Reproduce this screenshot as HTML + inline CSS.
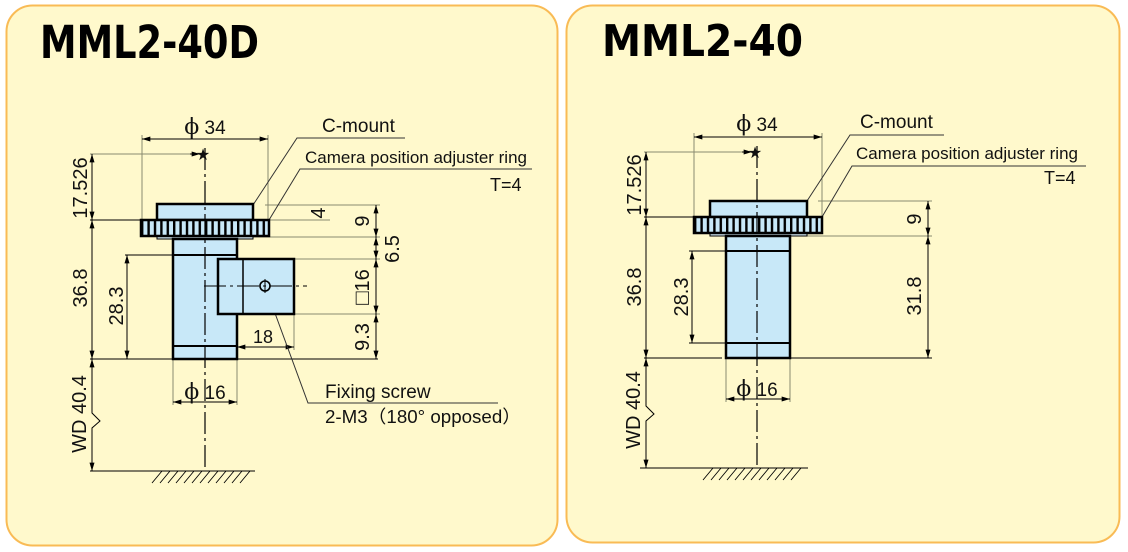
<!DOCTYPE html>
<html><head><meta charset="utf-8"><style>
html,body{margin:0;padding:0;background:#fff;}
svg{display:block;}
text{font-family:"Liberation Sans",sans-serif;fill:#111;}
.t{font-family:"DejaVu Sans","Liberation Sans",sans-serif;font-weight:bold;fill:#000;}
</style></head><body>
<svg width="1128" height="552" viewBox="0 0 1128 552" xmlns="http://www.w3.org/2000/svg">
<defs>
<marker id="a" viewBox="0 0 10 6" refX="10" refY="3" markerWidth="9" markerHeight="5" orient="auto-start-reverse" markerUnits="userSpaceOnUse"><path d="M0,0L10,3L0,6z" fill="#000"/></marker>
<pattern id="kL" x="141" y="0" width="6.4" height="20" patternUnits="userSpaceOnUse"><rect width="6.4" height="20" fill="#c8e8f8"/><rect x="0" width="2.4" height="20" fill="#000"/></pattern>
<pattern id="kR" x="694" y="0" width="6.4" height="20" patternUnits="userSpaceOnUse"><rect width="6.4" height="20" fill="#c8e8f8"/><rect x="0" width="2.4" height="20" fill="#000"/></pattern>
</defs>
<rect x="0" y="0" width="1128" height="552" fill="#fff"/>
<rect x="6.5" y="5.5" width="551" height="540" rx="26" fill="#fff9cc" stroke="#f9bb55" stroke-width="2"/>
<rect x="566.5" y="5.5" width="553" height="537" rx="26" fill="#fff9cc" stroke="#f9bb55" stroke-width="2"/>
<text class="t" x="40" y="58" font-size="45" textLength="219" lengthAdjust="spacingAndGlyphs">MML2-40D</text>
<text class="t" x="602" y="56" font-size="44" textLength="201" lengthAdjust="spacingAndGlyphs">MML2-40</text>

<!-- LEFT -->
<g stroke="#000" stroke-width="1" fill="none">
<g stroke="#8a8a70">
<line x1="142" y1="135" x2="142" y2="220"/><line x1="268" y1="135" x2="268" y2="220"/>
<line x1="90" y1="154" x2="200" y2="154"/>
<line x1="265" y1="205" x2="380" y2="205"/>
<line x1="253" y1="237" x2="380" y2="237"/>
<line x1="294" y1="259" x2="380" y2="259"/>
<line x1="294" y1="314" x2="380" y2="314"/>
<line x1="294" y1="314" x2="294" y2="350"/>
<line x1="173" y1="359" x2="173" y2="405"/><line x1="237" y1="359" x2="237" y2="405"/>
<line x1="269" y1="220" x2="330" y2="220"/>
</g>
<line x1="90" y1="220" x2="141" y2="220"/>
<line x1="90" y1="359" x2="378" y2="359"/>
<line x1="125" y1="255" x2="173" y2="255"/>
<line x1="142" y1="139" x2="268" y2="139" marker-start="url(#a)" marker-end="url(#a)"/>
<line x1="92" y1="154" x2="92" y2="220" marker-start="url(#a)" marker-end="url(#a)"/>
<line x1="92" y1="220" x2="92" y2="359" marker-start="url(#a)" marker-end="url(#a)"/>
<line x1="127" y1="255" x2="127" y2="359" marker-start="url(#a)" marker-end="url(#a)"/>
<line x1="92" y1="359" x2="92" y2="471" marker-start="url(#a)" marker-end="url(#a)"/>
<line x1="376" y1="205" x2="376" y2="237" marker-start="url(#a)" marker-end="url(#a)"/>
<line x1="376" y1="237" x2="376" y2="259" marker-start="url(#a)" marker-end="url(#a)"/>
<line x1="376" y1="259" x2="376" y2="314" marker-start="url(#a)" marker-end="url(#a)"/>
<line x1="376" y1="314" x2="376" y2="359" marker-start="url(#a)" marker-end="url(#a)"/>
<line x1="237" y1="347" x2="294" y2="347" marker-start="url(#a)" marker-end="url(#a)"/>
<line x1="173" y1="402" x2="237" y2="402" marker-start="url(#a)" marker-end="url(#a)"/>
<line x1="190" y1="154" x2="200" y2="154" marker-end="url(#a)"/>
<line x1="90" y1="471" x2="255" y2="471"/>
<path stroke-width="0.9" d="M152,483l10,-12M160,483l10,-12M168,483l10,-12M176,483l10,-12M184,483l10,-12M192,483l10,-12M200,483l10,-12M208,483l10,-12M216,483l10,-12M224,483l10,-12M232,483l10,-12M240,483l10,-12"/>
<polyline points="253,205 297,138 405,138" stroke="#333"/>
<polyline points="269,220 300,169 532,169" stroke="#333"/>
<polyline points="265,286 308,403 498,403" stroke="#333"/>
</g>
<rect x="88" y="410" width="10" height="22" fill="#fff9cc"/>
<polyline points="92,408 92,413 100,421 92,428 92,434" fill="none" stroke="#000" stroke-width="1"/>
<g stroke="#000" stroke-width="2.5">
<rect x="157" y="204" width="96" height="16" fill="#c8e8f8"/>
<rect x="157" y="236" width="96" height="3" fill="#d8eef8" stroke-width="1"/>
<rect x="173" y="239" width="64" height="120" fill="#c8e8f8"/>
<line x1="173" y1="255" x2="237" y2="255" stroke-width="2"/>
<line x1="173" y1="346" x2="237" y2="346" stroke-width="2"/>
<rect x="218" y="259" width="76" height="55" fill="#c8e8f8"/>
<line x1="243" y1="259" x2="243" y2="314" stroke-width="1.5"/>
<rect x="141" y="220" width="128" height="16" fill="url(#kL)"/>
</g>
<line x1="204" y1="286" x2="307" y2="286" stroke="#000" stroke-width="1" stroke-dasharray="22,4,3,4"/>
<circle cx="265" cy="286" r="5" fill="none" stroke="#000" stroke-width="1.6"/>
<line x1="265" y1="279" x2="265" y2="293" stroke="#000" stroke-width="1"/>
<line x1="205" y1="148" x2="205" y2="471" stroke="#000" stroke-width="1.2" stroke-dasharray="22,4,3,4"/>
<text x="203" y="160" font-size="16" text-anchor="middle">★</text>
<text x="205" y="134" font-size="19" text-anchor="middle"><tspan font-size="22" font-family="DejaVu Serif, serif">ϕ</tspan> 34</text>
<text x="322" y="132" font-size="19">C-mount</text>
<text x="305" y="163" font-size="17" textLength="222" lengthAdjust="spacingAndGlyphs">Camera position adjuster ring</text>
<text x="490" y="191" font-size="18">T=4</text>
<text x="263" y="343" font-size="18" text-anchor="middle">18</text>
<text x="205" y="399" font-size="19" text-anchor="middle"><tspan font-size="22" font-family="DejaVu Serif, serif">ϕ</tspan> 16</text>
<text x="325" y="398" font-size="19">Fixing screw</text>
<text x="325" y="423" font-size="18" textLength="196" lengthAdjust="spacingAndGlyphs">2-M3（180° opposed）</text>
<g font-size="20" text-anchor="middle">
<text transform="translate(87,188) rotate(-90)">17.526</text>
<text transform="translate(87,288) rotate(-90)">36.8</text>
<text transform="translate(123,306) rotate(-90)">28.3</text>
<text transform="translate(86,414) rotate(-90)">WD 40.4</text>
<text transform="translate(369,221) rotate(-90)">9</text>
<text transform="translate(399,249) rotate(-90)">6.5</text>
<text transform="translate(369,287) rotate(-90)"><tspan font-size="22">□</tspan>16</text>
<text transform="translate(369,337) rotate(-90)">9.3</text>
<text transform="translate(325,213) rotate(-90)">4</text>
</g>

<!-- RIGHT -->
<g stroke="#000" stroke-width="1" fill="none">
<g stroke="#8a8a70">
<line x1="694" y1="133" x2="694" y2="217"/><line x1="822" y1="133" x2="822" y2="217"/>
<line x1="644" y1="152" x2="752" y2="152"/>
<line x1="818" y1="201" x2="932" y2="201"/>
<line x1="807" y1="236" x2="932" y2="236"/>
<line x1="726" y1="358" x2="726" y2="402"/><line x1="790" y1="358" x2="790" y2="402"/>
</g>
<line x1="644" y1="217" x2="694" y2="217"/>
<line x1="644" y1="358" x2="722" y2="358"/>
<line x1="790" y1="358" x2="932" y2="358"/>
<line x1="689" y1="251" x2="726" y2="251"/>
<line x1="689" y1="343" x2="726" y2="343"/>
<line x1="694" y1="137" x2="822" y2="137" marker-start="url(#a)" marker-end="url(#a)"/>
<line x1="646" y1="152" x2="646" y2="217" marker-start="url(#a)" marker-end="url(#a)"/>
<line x1="646" y1="217" x2="646" y2="358" marker-start="url(#a)" marker-end="url(#a)"/>
<line x1="692" y1="251" x2="692" y2="343" marker-start="url(#a)" marker-end="url(#a)"/>
<line x1="646" y1="358" x2="646" y2="468" marker-start="url(#a)" marker-end="url(#a)"/>
<line x1="928" y1="201" x2="928" y2="236" marker-start="url(#a)" marker-end="url(#a)"/>
<line x1="928" y1="236" x2="928" y2="358" marker-start="url(#a)" marker-end="url(#a)"/>
<line x1="726" y1="399" x2="790" y2="399" marker-start="url(#a)" marker-end="url(#a)"/>
<line x1="742" y1="152" x2="752" y2="152" marker-end="url(#a)"/>
<line x1="640" y1="468" x2="808" y2="468"/>
<path stroke-width="0.9" d="M703,480l10,-12M711,480l10,-12M719,480l10,-12M727,480l10,-12M735,480l10,-12M743,480l10,-12M751,480l10,-12M759,480l10,-12M767,480l10,-12M775,480l10,-12M783,480l10,-12M791,480l10,-12"/>
<polyline points="807,201 850,135 944,135" stroke="#333"/>
<polyline points="822,217 852,166 1086,166" stroke="#333"/>
</g>
<rect x="642" y="403" width="10" height="22" fill="#fff9cc"/>
<polyline points="646,402 646,406 654,414 646,421 646,426" fill="none" stroke="#000" stroke-width="1"/>
<g stroke="#000" stroke-width="2.5">
<rect x="710" y="201" width="97" height="16" fill="#c8e8f8"/>
<rect x="710" y="233" width="97" height="3" fill="#d8eef8" stroke-width="1"/>
<rect x="726" y="236" width="64" height="122" fill="#c8e8f8"/>
<line x1="726" y1="251" x2="790" y2="251" stroke-width="2"/>
<line x1="726" y1="343" x2="790" y2="343" stroke-width="2"/>
<rect x="694" y="217" width="128" height="16" fill="url(#kR)"/>
</g>
<line x1="757" y1="146" x2="757" y2="468" stroke="#000" stroke-width="1.2" stroke-dasharray="22,4,3,4"/>
<text x="755" y="158" font-size="16" text-anchor="middle">★</text>
<text x="757" y="131" font-size="19" text-anchor="middle"><tspan font-size="22" font-family="DejaVu Serif, serif">ϕ</tspan> 34</text>
<text x="860" y="128" font-size="19">C-mount</text>
<text x="856" y="159" font-size="17" textLength="222" lengthAdjust="spacingAndGlyphs">Camera position adjuster ring</text>
<text x="1044" y="184" font-size="18">T=4</text>
<text x="757" y="396" font-size="19" text-anchor="middle"><tspan font-size="22" font-family="DejaVu Serif, serif">ϕ</tspan> 16</text>
<g font-size="20" text-anchor="middle">
<text transform="translate(641,185) rotate(-90)">17.526</text>
<text transform="translate(641,287) rotate(-90)">36.8</text>
<text transform="translate(688,297) rotate(-90)">28.3</text>
<text transform="translate(640,410) rotate(-90)">WD 40.4</text>
<text transform="translate(921,219) rotate(-90)">9</text>
<text transform="translate(921,296) rotate(-90)">31.8</text>
</g>
</svg>
</body></html>
